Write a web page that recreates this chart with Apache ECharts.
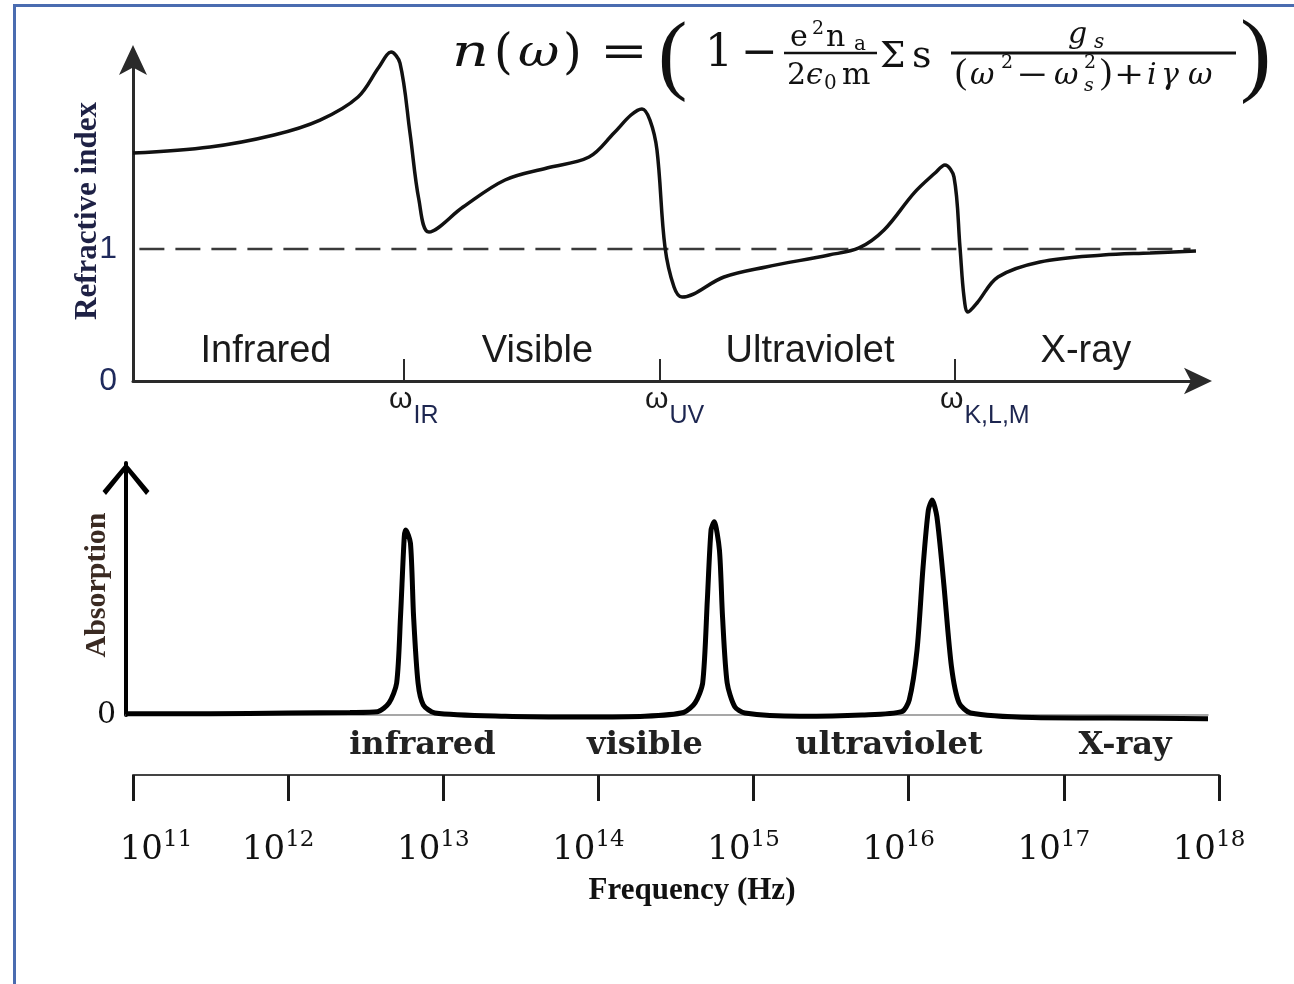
<!DOCTYPE html>
<html>
<head>
<meta charset="utf-8">
<title>Refractive index and absorption</title>
<script src="https://cdn.jsdelivr.net/npm/echarts@6/dist/echarts.min.js"></script>
<style>
  html, body { margin: 0; padding: 0; background: #fff; }
  #chart { width: 1294px; height: 984px; }
</style>
</head>
<body>
<div id="chart"></div>
<script>
// upper panel: refractive index n vs. frequency (arbitrary units 0..100)
const omega = [0, 7.23, 13.24, 17.56, 21.13, 23.1, 24.23, 25.07, 26.01, 26.85, 27.79, 30.99, 34.93, 38.87,
  42.82, 45.16, 46.76, 47.79, 48.54, 49.2, 49.95, 50.8, 51.55, 55.49, 59.44, 65.35, 68.17, 70.52, 73.33,
  75.31, 76.24, 77.09, 77.65, 78.03, 78.4, 79.25, 81.22, 85.16, 91.08, 95.5, 99.81];
const nIndex = [1.727, 1.773, 1.864, 1.977, 2.152, 2.379, 2.492, 2.409, 1.879, 1.371, 1.129, 1.318, 1.523, 1.614,
  1.697, 1.879, 2.015, 2.061, 1.977, 1.75, 1.015, 0.712, 0.636, 0.788, 0.864, 0.955, 1.008, 1.144, 1.424,
  1.576, 1.636, 1.545, 1.015, 0.636, 0.523, 0.591, 0.788, 0.902, 0.955, 0.97, 0.985];
const resonances = [25.45, 49.48, 77.18];
const resonanceSubs = ['IR', 'UV', 'K,L,M'];
const topBands = ['Infrared', 'Visible', 'Ultraviolet', 'X-ray'];
const topBandX = [12.49, 37.98, 63.57, 89.48];

// lower panel: absorption vs. log10 frequency (Hz)
const absFreq = [10.955, 11.5, 12.0, 12.4, 12.576, 12.651, 12.7, 12.725, 12.749, 12.759, 12.789, 12.809, 12.838,
  12.872, 12.947, 13.4, 13.9, 14.3, 14.55, 14.624, 14.673, 14.703, 14.727, 14.747, 14.781, 14.801, 14.831,
  14.88, 14.945, 15.3, 15.7, 15.956, 16.005, 16.055, 16.094, 16.128, 16.153, 16.183, 16.227, 16.277, 16.326,
  16.4, 16.8, 17.3, 17.931];
const absVal = [0.05, 0.05, 0.08, 0.1, 0.13, 0.48, 1.27, 3.92, 7.07, 7.34, 6.82, 3.92, 1.27,
  0.4, 0.08, -0.05, -0.08, -0.05, 0.1, 0.48, 1.27, 4.56, 7.34, 7.67, 6.55, 3.9, 1.27,
  0.33, 0.08, -0.05, 0.0, 0.13, 0.6, 2.58, 5.88, 8.13, 8.53, 7.87, 5.24, 1.92, 0.48,
  0.08, -0.1, -0.12, -0.15];
const freqExponents = [11, 12, 13, 14, 15, 16, 17, 18];
const bottomBands = ['infrared', 'visible', 'ultraviolet', 'X-ray'];
const bottomBandX = [12.866, 14.301, 15.874, 17.396];

const chart = echarts.init(document.getElementById('chart'));

// piece of the formula, positioned by its baseline
function mt(text, x, base, size, o = {}) {
  return {
    type: 'text', x: x, y: base - 0.34 * size, scaleX: o.sx || 1, silent: true,
    style: {
      text: text, fontFamily: o.ff || 'DejaVu Serif', fontSize: size,
      fontStyle: o.it ? 'italic' : 'normal', fill: '#111',
      textAlign: 'left', textVerticalAlign: 'middle'
    }
  };
}
function bar(x1, x2, y, w) {
  return { type: 'line', silent: true, shape: { x1: x1, y1: y, x2: x2, y2: y }, style: { stroke: '#111', lineWidth: w } };
}

const formula = [
  mt('n', 452, 70, 44, { it: true, sx: 1.3 }),
  mt('(', 494, 72, 48),
  mt('ω', 518, 70, 44, { it: true, sx: 1.15 }),
  mt(')', 563, 72, 48),
  mt('=', 600, 70, 44, { sx: 1.3 }),
  mt('(', 658, 90, 88, { ff: 'Liberation Serif' }),
  mt('1', 705, 70, 44),
  mt('−', 741, 70, 44),
  mt('e', 790, 48, 30), mt('2', 812, 36, 19), mt('n', 826, 48, 30), mt('a', 854, 52, 20),
  bar(784, 877, 53, 2.5),
  mt('2', 787, 86, 30), mt('ϵ', 806, 86, 30, { it: true }), mt('0', 824, 91, 20), mt('m', 842, 86, 30),
  mt('Σ', 880, 70, 36), mt('s', 912, 70, 38),
  mt('g', 1068, 45, 30, { it: true }), mt('s', 1094, 50, 20, { it: true }),
  bar(951, 1236, 53, 3),
  mt('(', 955, 86, 36, { ff: 'Liberation Serif' }),
  mt('ω', 970, 86, 30, { it: true }), mt('2', 1001, 70, 19),
  mt('−', 1016, 86, 30, { sx: 1.3 }),
  mt('ω', 1054, 86, 30, { it: true }), mt('2', 1084, 70, 19), mt('s', 1084, 93, 19, { it: true }),
  mt(')', 1100, 86, 36, { ff: 'Liberation Serif' }),
  mt('+', 1114, 86, 30, { sx: 1.2 }),
  mt('i', 1147, 86, 30, { it: true }), mt('γ', 1161, 86, 30, { it: true }), mt('ω', 1188, 86, 30, { it: true }),
  mt(')', 1240, 91, 94, { ff: 'Liberation Serif' })
];

const hiddenItem = { color: 'rgba(0,0,0,0)', opacity: 1 };

const option = {
  backgroundColor: '#fff',
  animation: false,
  grid: [
    { left: 133, top: 60, width: 1065, height: 321, containLabel: false, outerBoundsMode: 'none' },
    { left: 126, top: 463, width: 1082, height: 252, containLabel: false, outerBoundsMode: 'none' },
    { left: 133, top: 700, width: 1086, height: 75, containLabel: false, outerBoundsMode: 'none' }
  ],
  xAxis: [
    {
      gridIndex: 0, type: 'value', min: 0, max: 100,
      axisLine: { lineStyle: { color: '#2a2a2a', width: 3 }, symbol: ['none', 'arrow'], symbolSize: [20, 28], symbolOffset: [0, 14] },
      axisTick: { show: true, inside: true, length: 22, customValues: resonances, lineStyle: { color: '#2a2a2a', width: 2 } },
      axisLabel: { show: false }, splitLine: { show: false }
    },
    {
      gridIndex: 1, type: 'value', min: 10.955, max: 17.931,
      axisLine: { lineStyle: { color: '#8a8a8a', width: 1.5 } },
      axisTick: { show: false }, axisLabel: { show: false }, splitLine: { show: false }
    },
    {
      gridIndex: 2, type: 'value', min: freqExponents[0], max: freqExponents[freqExponents.length - 1], interval: 1,
      axisLine: { lineStyle: { color: '#444', width: 2 } },
      axisTick: { length: 26, lineStyle: { color: '#1a1a1a', width: 3 } },
      axisLabel: {
        margin: 54, verticalAlign: 'top',
        // the first label sits to the right of its tick in the original
        formatter: v => v === freqExponents[0] ? `{p|}{b|10}{s|${v}}` : `{b|10}{s|${v}}{g|}`,
        rich: {
          b: { fontFamily: 'DejaVu Serif', fontSize: 34, color: '#111', lineHeight: 38, verticalAlign: 'bottom' },
          s: { fontFamily: 'DejaVu Serif', fontSize: 23, color: '#111', lineHeight: 24, verticalAlign: 'top' },
          g: { width: 20 },
          p: { width: 46 }
        }
      },
      splitLine: { show: false }
    }
  ],
  yAxis: [
    {
      gridIndex: 0, type: 'value', min: 0, max: 2.432,
      axisLine: { show: true, lineStyle: { color: '#2a2a2a', width: 3 }, symbol: ['none', 'arrow'], symbolSize: [21, 30], symbolOffset: [0, 15] },
      axisTick: { show: false },
      axisLabel: { customValues: [0, 1], margin: 16, color: '#1f2a5c', fontFamily: 'Liberation Sans', fontSize: 32 },
      splitLine: { show: false }
    },
    {
      gridIndex: 1, type: 'value', min: 0, max: 10,
      axisLine: {
        show: true, lineStyle: { color: '#000', width: 4 },
        symbol: ['none', 'path://M23.5,0 L47,28 L43.5,32 L23.5,7 L3.5,32 L0,28 Z'],
        symbolSize: [47, 32], symbolOffset: [0, -16]
      },
      axisTick: { show: false },
      axisLabel: { customValues: [0], margin: 10, padding: [0, 0, 18, 0], color: '#111', fontFamily: 'DejaVu Serif', fontSize: 30 },
      splitLine: { show: false }
    },
    { gridIndex: 2, type: 'value', show: false }
  ],
  series: [
    {
      name: 'n = 1', type: 'line', xAxisIndex: 0, yAxisIndex: 0, silent: true, showSymbol: false, z: 2,
      data: [[0.6, 1], [99.3, 1]],
      lineStyle: { color: '#3a3a3a', width: 2.5, type: [25, 11] }
    },
    {
      name: 'Refractive index', type: 'line', xAxisIndex: 0, yAxisIndex: 0, silent: true, showSymbol: false,
      smooth: 0.35, clip: false, z: 3,
      data: omega.map((x, i) => [x, nIndex[i]]),
      lineStyle: { color: '#111', width: 3.5 }
    },
    {
      name: 'Absorption', type: 'line', xAxisIndex: 1, yAxisIndex: 1, silent: true, showSymbol: false,
      smooth: 0.25, clip: false, z: 3,
      data: absFreq.map((x, i) => [x, absVal[i]]),
      lineStyle: { color: '#000', width: 5 }
    },
    {
      name: 'bands', type: 'scatter', xAxisIndex: 0, yAxisIndex: 0, silent: true, symbolSize: 0, clip: false,
      itemStyle: hiddenItem,
      data: topBands.map((b, i) => ({ name: b, value: [topBandX[i], 0.227] })),
      label: { show: true, position: 'inside', formatter: '{b}', color: '#1a1a1a', fontFamily: 'Liberation Sans', fontSize: 38 }
    },
    {
      name: 'resonances', type: 'scatter', xAxisIndex: 0, yAxisIndex: 0, silent: true, symbolSize: 0, clip: false,
      itemStyle: hiddenItem,
      data: resonances.map((x, i) => ({ name: resonanceSubs[i], value: [x, 0] })),
      label: {
        show: true, position: [-15, 4], align: 'left', verticalAlign: 'top',
        formatter: p => `{w|ω}{s|${p.name}}`,
        rich: {
          w: { fontFamily: 'Liberation Sans', fontSize: 30, color: '#1a1a1a', lineHeight: 30, verticalAlign: 'top' },
          s: { fontFamily: 'Liberation Sans', fontSize: 25, color: '#1d2650', lineHeight: 26, verticalAlign: 'top', padding: [19, 0, 0, 1] }
        }
      }
    },
    {
      name: 'regions', type: 'scatter', xAxisIndex: 1, yAxisIndex: 1, silent: true, symbolSize: 0, clip: false,
      itemStyle: hiddenItem,
      data: bottomBands.map((b, i) => ({ name: b, value: [bottomBandX[i], -1.23] })),
      label: { show: true, position: 'inside', formatter: '{b}', color: '#222', fontFamily: 'DejaVu Serif', fontWeight: 'bold', fontSize: 32 }
    }
  ],
  graphic: [
    { type: 'rect', silent: true, shape: { x: 14.5, y: 5.5, width: 1300, height: 1000 }, style: { fill: 'none', stroke: '#4a6cb0', lineWidth: 3 } },
    {
      type: 'text', x: 88, y: 211, rotation: Math.PI / 2, silent: true,
      style: { text: 'Refractive index', fontFamily: 'Liberation Serif', fontWeight: 'bold', fontSize: 31, fill: '#1e2145', textAlign: 'center', textVerticalAlign: 'middle' }
    },
    {
      type: 'text', x: 97, y: 585, rotation: Math.PI / 2, silent: true,
      style: { text: 'Absorption', fontFamily: 'Liberation Serif', fontWeight: 'bold', fontSize: 30, fill: '#3a2a22', textAlign: 'center', textVerticalAlign: 'middle' }
    },
    {
      type: 'text', x: 692, y: 891, silent: true,
      style: { text: 'Frequency (Hz)', fontFamily: 'Liberation Serif', fontWeight: 'bold', fontSize: 31, fill: '#111', textAlign: 'center', textVerticalAlign: 'middle' }
    },
    ...formula
  ]
};

chart.setOption(option);
</script>
</body>
</html>
